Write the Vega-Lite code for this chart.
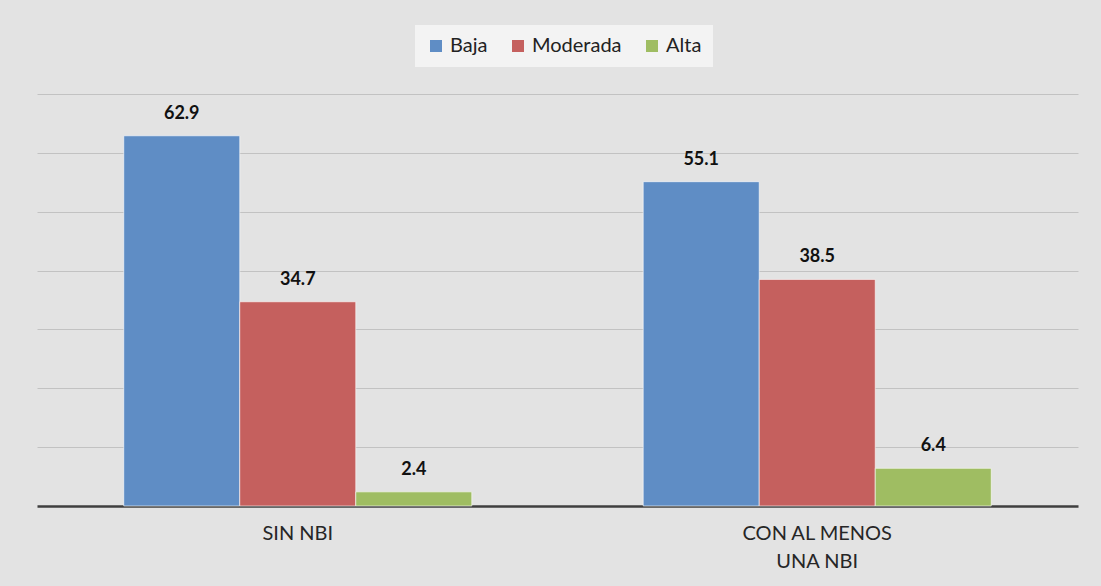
{
  "$schema": "https://vega.github.io/schema/vega-lite/v6.json",
  "width": 1041,
  "height": 412,
  "autosize": {"type": "none"},
  "padding": {"left": 37, "top": 94, "right": 23, "bottom": 80},
  "background": "#e3e3e3",
  "config": {
    "view": {"stroke": null},
    "font": "Lato"
  },
  "data": {
    "values": [
      {"grupo": "SIN NBI", "nivel": "Baja", "valor": 62.9},
      {"grupo": "SIN NBI", "nivel": "Moderada", "valor": 34.7},
      {"grupo": "SIN NBI", "nivel": "Alta", "valor": 2.4},
      {"grupo": "CON AL MENOS UNA NBI", "nivel": "Baja", "valor": 55.1},
      {"grupo": "CON AL MENOS UNA NBI", "nivel": "Moderada", "valor": 38.5},
      {"grupo": "CON AL MENOS UNA NBI", "nivel": "Alta", "valor": 6.4}
    ]
  },
  "encoding": {
    "x": {
      "field": "grupo",
      "type": "nominal",
      "sort": ["SIN NBI", "CON AL MENOS UNA NBI"],
      "scale": {"paddingInner": 0.33, "paddingOuter": 0.167},
      "axis": {
        "title": null,
        "labelAngle": 0,
        "labelFontSize": 20,
        "labelColor": "#262626",
        "labelFont": "Lato",
        "labelPadding": 17,
        "labelLineHeight": 28,
        "labelExpr": "datum.value == 'CON AL MENOS UNA NBI' ? ['CON AL MENOS', 'UNA NBI'] : datum.value",
        "ticks": false,
        "domainColor": "#3f3f3f",
        "domainWidth": 2.5,
        "grid": false
      }
    },
    "xOffset": {
      "field": "nivel",
      "type": "nominal",
      "sort": ["Baja", "Moderada", "Alta"],
      "scale": {"paddingInner": 0, "paddingOuter": 0}
    },
    "y": {
      "field": "valor",
      "type": "quantitative",
      "scale": {"domain": [0, 70], "nice": false},
      "axis": {
        "title": null,
        "labels": false,
        "ticks": false,
        "domain": false,
        "values": [10, 20, 30, 40, 50, 60, 70],
        "gridColor": "#c2c2c2",
        "gridWidth": 1
      }
    }
  },
  "layer": [
    {
      "mark": {"type": "bar", "stroke": "#ffffff", "strokeWidth": 1, "strokeOpacity": 0.6},
      "encoding": {
        "color": {
          "field": "nivel",
          "type": "nominal",
          "sort": ["Baja", "Moderada", "Alta"],
          "scale": {"domain": ["Baja", "Moderada", "Alta"], "range": ["#5f8dc5", "#c5605e", "#9fbd62"]},
          "legend": {
            "title": null,
            "orient": "none",
            "direction": "horizontal",
            "legendX": 378,
            "legendY": -69,
            "fillColor": "#f3f3f3",
            "padding": 11,
            "symbolType": "square",
            "symbolSize": 144,
            "symbolStrokeWidth": 0,
            "labelFontSize": 20,
            "labelFont": "Lato",
            "labelColor": "#222222",
            "columnPadding": 20,
            "labelOffset": 4
          }
        }
      }
    },
    {
      "mark": {"type": "text", "dy": -22, "fontSize": 18, "fontWeight": "bold", "color": "#111111", "font": "Lato"},
      "encoding": {
        "text": {"field": "valor", "type": "quantitative", "format": ".1f"}
      }
    }
  ]
}
